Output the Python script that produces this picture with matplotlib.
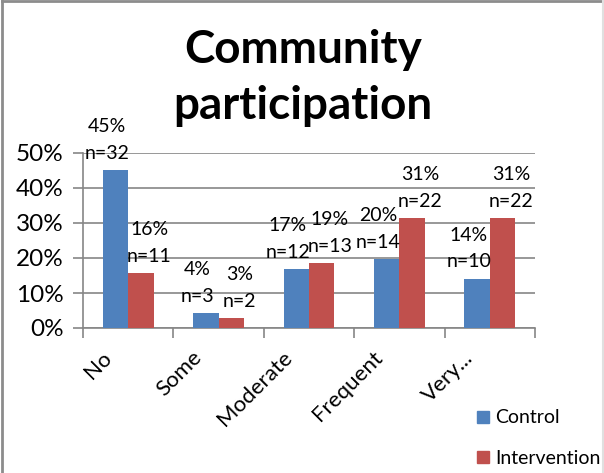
import matplotlib
matplotlib.use("Agg")
import matplotlib.pyplot as plt
from matplotlib.lines import Line2D
import numpy as np

categories = ["No", "Some", "Moderate", "Frequent", "Very..."]
control_pct = [45.1, 4.2, 16.9, 19.7, 14.1]
control_n = [32, 3, 12, 14, 10]
intervention_pct = [15.7, 2.9, 18.6, 31.4, 31.4]
intervention_n = [11, 2, 13, 22, 22]
series_names = ["Control", "Intervention"]

BLUE = "#4F81BD"
RED = "#C0504D"
GRID = "#868686"

plt.rcParams["font.family"] = ["Lato", "DejaVu Sans"]

W, H = 604, 473
fig = plt.figure(figsize=(W / 100, H / 100), dpi=100)
ax = fig.add_axes([83 / W, 1 - 328 / H, (535 - 83) / W, (328 - 153) / H])

x = np.arange(len(categories))
bw = 0.28
b1 = ax.bar(x - bw / 2, control_pct, bw, color=BLUE, zorder=3)
b2 = ax.bar(x + bw / 2, intervention_pct, bw, color=RED, zorder=3)

# data labels: percent on top, count below it (nudged apart like Excel does)
for bars, pcts, ns, dx in [(b1, control_pct, control_n, -6),
                           (b2, intervention_pct, intervention_n, 6)]:
    for rect, p, n in zip(bars, pcts, ns):
        ax.annotate("%d%%\nn=%d" % (round(p), n),
                    (rect.get_x() + rect.get_width() / 2, rect.get_height()),
                    xytext=(dx, 6), textcoords="offset points",
                    ha="center", va="bottom", fontsize=14,
                    linespacing=1.7, zorder=5, annotation_clip=False)

ax.set_xlim(-0.5, len(categories) - 0.5)
ax.set_ylim(0, 50)
ax.set_yticks(range(0, 51, 10))
ax.set_yticklabels(["%d%%" % v for v in range(0, 51, 10)], fontsize=17.5)
ax.yaxis.grid(True, color=GRID, linewidth=1.2, zorder=0)
ax.set_axisbelow(True)

# category boundaries get the tick marks, labels sit a bit left of centre
ax.set_xticks(np.arange(-0.5, len(categories), 1.0))
ax.set_xticklabels([])
ax.set_xticks(x - 0.3, minor=True)
ax.set_xticklabels(categories, minor=True, rotation=45, ha="right",
                   rotation_mode="anchor", fontsize=16)
ax.tick_params(axis="x", which="minor", length=0, pad=14)
ax.tick_params(axis="x", which="major", length=7, color=GRID, width=1.2)
ax.tick_params(axis="y", length=7, color=GRID, width=1.2, pad=7)

for s in ["top", "right"]:
    ax.spines[s].set_visible(False)
for s in ["left", "bottom"]:
    ax.spines[s].set_color(GRID)
    ax.spines[s].set_linewidth(1.2)

fig.text(303 / W, 1 - 78 / H, "Community\nparticipation", ha="center", va="center",
         fontsize=33, fontweight="bold", linespacing=1.4)

handles = [Line2D([], [], marker="s", linestyle="", markersize=8, color=BLUE),
           Line2D([], [], marker="s", linestyle="", markersize=8, color=RED)]
fig.legend(handles, series_names, loc="center left",
           bbox_to_anchor=(467 / W, 1 - 438 / H), frameon=False, fontsize=14,
           handlelength=0.6, handletextpad=0.35, labelspacing=1.2, borderpad=0)

# outer frame of the chart
fig.add_artist(Line2D([2 / W, 2 / W], [0, 1 - 1 / H], color="#8c8c8c", linewidth=2))
fig.add_artist(Line2D([2 / W, 1], [1 - 1 / H, 1 - 1 / H], color="#8c8c8c", linewidth=2))
fig.add_artist(Line2D([1 - 1.5 / W, 1 - 1.5 / W], [0, 1], color="#e0e0e0", linewidth=1.5))

fig.savefig("out.png", dpi=100, facecolor="white")
